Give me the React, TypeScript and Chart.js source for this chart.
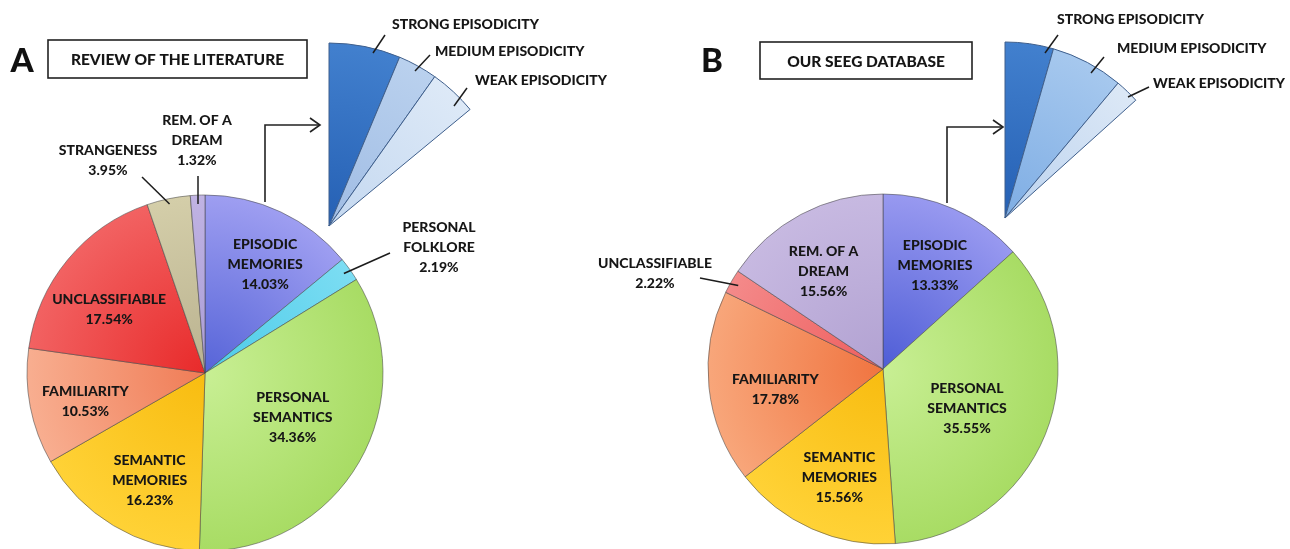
import React, { useEffect, useRef } from "react";
import { Chart, registerables } from "chart.js";

Chart.register(...registerables);

// ---------------- DATA ----------------
const titleA = "REVIEW OF THE LITERATURE";
const categoriesA = [
  "EPISODIC MEMORIES",
  "PERSONAL FOLKLORE",
  "PERSONAL SEMANTICS",
  "SEMANTIC MEMORIES",
  "FAMILIARITY",
  "UNCLASSIFIABLE",
  "STRANGENESS",
  "REM. OF A DREAM",
];
const percentA = [14.03, 2.19, 34.36, 16.23, 10.53, 17.54, 3.95, 1.32];
const labelLinesA = [
  ["EPISODIC", "MEMORIES"],
  ["PERSONAL", "FOLKLORE"],
  ["PERSONAL", "SEMANTICS"],
  ["SEMANTIC", "MEMORIES"],
  ["FAMILIARITY"],
  ["UNCLASSIFIABLE"],
  ["STRANGENESS"],
  ["REM. OF A", "DREAM"],
];

const titleB = "OUR SEEG DATABASE";
const categoriesB = [
  "EPISODIC MEMORIES",
  "PERSONAL SEMANTICS",
  "SEMANTIC MEMORIES",
  "FAMILIARITY",
  "UNCLASSIFIABLE",
  "REM. OF A DREAM",
];
const percentB = [13.33, 35.55, 15.56, 17.78, 2.22, 15.56];
const labelLinesB = [
  ["EPISODIC", "MEMORIES"],
  ["PERSONAL", "SEMANTICS"],
  ["SEMANTIC", "MEMORIES"],
  ["FAMILIARITY"],
  ["UNCLASSIFIABLE"],
  ["REM. OF A", "DREAM"],
];

const episodicityLevels = ["STRONG EPISODICITY", "MEDIUM EPISODICITY", "WEAK EPISODICITY"];
const episodicityA = [45, 25, 30];
const episodicityB = [33.3, 50, 16.7];

// ---------------- STYLE / LAYOUT ----------------
const W = 1290;
const H = 600;
const FONT = "Lato, 'Open Sans', sans-serif";
const WEIGHT = "900";
const TEXT = "#161616";

const innerA = ["#5664d8", "#4ccbe8", "#c8ef94", "#f8bc10", "#f07c56", "#e82a2a", "#bab290", "#aa9cd6"];
const outerA = ["#9e9ef1", "#7cddf3", "#a8dc64", "#ffd236", "#f8ae90", "#f26262", "#d4cea9", "#c0b3e3"];
const innerB = ["#4e5dd6", "#c8ef94", "#f8bc10", "#f07440", "#ee5e5e", "#b2a2d2"];
const outerB = ["#9899f0", "#a8dc64", "#ffd236", "#f8a67a", "#f48a8a", "#c7b9e1"];
const wedgeInnerA = ["#2560b4", "#9fbce4", "#c4d8f0"];
const wedgeOuterA = ["#4280ce", "#bad1ee", "#dde9f7"];
const wedgeInnerB = ["#2560b4", "#7eade4", "#bcd3ef"];
const wedgeOuterB = ["#4280ce", "#a6c8ee", "#dce8f6"];

const PIE_A = { cx: 205, cy: 373, r: 178 };
const PIE_B = { cx: 883, cy: 369, r: 175 };
const WEDGE_A = { cx: 329, cy: 226, r: 183 };
const WEDGE_B = { cx: 1005, cy: 218, r: 176 };

// label placement (inside: radial factor + nudge; outside: text centre + leader)
const placeA: any[] = [
  { rf: 0.7, dx: 7, dy: 4 },
  { out: true, tx: 439, ty: 247, ex: 390, ey: 253, rl: 0.96 },
  { rf: 0.55, dx: 3, dy: -5 },
  { rf: 0.68, dx: 7, dy: 4 },
  { rf: 0.69, dx: 1, dy: 5 },
  { rf: 0.64, dx: -8, dy: 9 },
  { out: true, tx: 108, ty: 160, ex: 142, ey: 177, rl: 0.97 },
  { out: true, tx: 197, ty: 140, ex: 198, ey: 176, rl: 0.95 },
];
const placeB: any[] = [
  { rf: 0.66, dx: 5, dy: 2 },
  { rf: 0.53, dx: -2, dy: 5 },
  { rf: 0.67, dx: 4, dy: 1 },
  { rf: 0.63, dx: 2, dy: 9 },
  { out: true, tx: 655, ty: 273, ex: 700, ey: 278, rl: 0.955 },
  { rf: 0.65, dx: -6, dy: 3 },
];
const wedgeLabelsA = [
  { tx: 392, ty: 24, sx: 373, sy: 53, ex: 385, ey: 35 },
  { tx: 435, ty: 51, sx: 415, sy: 71, ex: 430, ey: 55 },
  { tx: 475, ty: 80, sx: 454, sy: 106, ex: 467, ey: 88 },
];
const wedgeLabelsB = [
  { tx: 1057, ty: 19, sx: 1045, sy: 53, ex: 1058, ey: 35 },
  { tx: 1117, ty: 48, sx: 1091, sy: 73, ex: 1104, ey: 57 },
  { tx: 1153, ty: 83, sx: 1128, sy: 97, ex: 1149, ey: 87 },
];
const frameA = { letter: "A", lx: 22, ly: 61, box: [48, 40, 307, 78], arrow: [[265, 202], [265, 125], [320, 125]] };
const frameB = { letter: "B", lx: 712, ly: 61, box: [760, 42, 972, 79], arrow: [[947, 203], [947, 127], [1003, 127]] };

// ---------------- HELPERS ----------------
function sectorPadding(g: { cx: number; cy: number; r: number }, circDeg: number) {
  const TAU = Math.PI * 2;
  let minX = -1, maxX = 1, minY = -1, maxY = 1;
  if (circDeg < 360) {
    const s = -Math.PI / 2;
    const e = s + (circDeg * Math.PI) / 180;
    const pts = [[0, 0], [Math.cos(s), Math.sin(s)], [Math.cos(e), Math.sin(e)]];
    [0, Math.PI / 2, Math.PI, 1.5 * Math.PI].forEach((a) => {
      const d = (((a - s) % TAU) + TAU) % TAU;
      if (d <= e - s + 1e-9) pts.push([Math.cos(a), Math.sin(a)]);
    });
    minX = Math.min(...pts.map((p) => p[0]));
    maxX = Math.max(...pts.map((p) => p[0]));
    minY = Math.min(...pts.map((p) => p[1]));
    maxY = Math.max(...pts.map((p) => p[1]));
  }
  return {
    left: g.cx + minX * g.r,
    right: W - (g.cx + maxX * g.r),
    top: g.cy + minY * g.r,
    bottom: H - (g.cy + maxY * g.r),
  };
}

function radialFill(g: any, inner: string[], outer: string[]) {
  return (c: any) => {
    const i = c.dataIndex;
    if (i === undefined) return inner[0];
    const grad = c.chart.ctx.createRadialGradient(g.cx, g.cy, 0, g.cx, g.cy, g.r);
    grad.addColorStop(0, inner[i]);
    grad.addColorStop(1, outer[i]);
    return grad;
  };
}

function drawLines(ctx: CanvasRenderingContext2D, lines: string[], x: number, y: number, lh: number) {
  const n = lines.length;
  lines.forEach((t, i) => ctx.fillText(t, x, y + (i - (n - 1) / 2) * lh));
}

function frameDraw(ctx: CanvasRenderingContext2D, f: any, title: string) {
  ctx.save();
  ctx.fillStyle = "#111";
  ctx.font = `${WEIGHT} 33px ${FONT}`;
  ctx.textAlign = "center";
  ctx.textBaseline = "middle";
  ctx.fillText(f.letter, f.lx, f.ly);
  const [x1, y1, x2, y2] = f.box;
  ctx.strokeStyle = "#222";
  ctx.lineWidth = 1.6;
  ctx.strokeRect(x1, y1, x2 - x1, y2 - y1);
  ctx.fillStyle = TEXT;
  ctx.font = `${WEIGHT} 15.5px ${FONT}`;
  ctx.fillText(title, (x1 + x2) / 2, (y1 + y2) / 2 + 1);
  // arrow
  ctx.lineWidth = 1.6;
  ctx.beginPath();
  f.arrow.forEach((p: number[], i: number) => (i ? ctx.lineTo(p[0], p[1]) : ctx.moveTo(p[0], p[1])));
  ctx.stroke();
  const tip = f.arrow[f.arrow.length - 1];
  ctx.beginPath();
  ctx.moveTo(tip[0] - 10, tip[1] - 7);
  ctx.lineTo(tip[0], tip[1]);
  ctx.lineTo(tip[0] - 10, tip[1] + 7);
  ctx.stroke();
  ctx.restore();
}

function piePlugin(lines: string[][], values: number[], place: any[], frame: any, title: string) {
  return {
    id: "pieLabels",
    afterDatasetsDraw(chart: any) {
      const ctx = chart.ctx as CanvasRenderingContext2D;
      const meta = chart.getDatasetMeta(0);
      ctx.save();
      ctx.font = `${WEIGHT} 14px ${FONT}`;
      ctx.fillStyle = TEXT;
      ctx.strokeStyle = "#1c1c1c";
      ctx.lineWidth = 1.5;
      ctx.textAlign = "center";
      ctx.textBaseline = "middle";
      meta.data.forEach((arc: any, i: number) => {
        const { x, y, startAngle, endAngle, outerRadius } = arc.getProps(
          ["x", "y", "startAngle", "endAngle", "outerRadius"],
          true
        );
        const mid = (startAngle + endAngle) / 2;
        const p = place[i];
        const txt = [...lines[i], values[i].toFixed(2) + "%"];
        if (p.out) {
          ctx.beginPath();
          ctx.moveTo(x + Math.cos(mid) * outerRadius * p.rl, y + Math.sin(mid) * outerRadius * p.rl);
          ctx.lineTo(p.ex, p.ey);
          ctx.stroke();
          drawLines(ctx, txt, p.tx, p.ty, 20);
        } else {
          const px = x + Math.cos(mid) * outerRadius * p.rf + p.dx;
          const py = y + Math.sin(mid) * outerRadius * p.rf + p.dy;
          drawLines(ctx, txt, px, py, 20);
        }
      });
      ctx.restore();
      frameDraw(ctx, frame, title);
    },
  };
}

function wedgePlugin(levels: string[], place: any[]) {
  return {
    id: "wedgeLabels",
    afterDatasetsDraw(chart: any) {
      const ctx = chart.ctx as CanvasRenderingContext2D;
      ctx.save();
      ctx.font = `${WEIGHT} 14px ${FONT}`;
      ctx.fillStyle = TEXT;
      ctx.strokeStyle = "#1c1c1c";
      ctx.lineWidth = 1.5;
      ctx.textAlign = "left";
      ctx.textBaseline = "middle";
      levels.forEach((t, i) => {
        const p = place[i];
        ctx.beginPath();
        ctx.moveTo(p.sx, p.sy);
        ctx.lineTo(p.ex, p.ey);
        ctx.stroke();
        ctx.fillText(t, p.tx, p.ty);
      });
      ctx.restore();
    },
  };
}

function baseOptions(g: any, circ: number, extra: any = {}) {
  return {
    responsive: false,
    animation: false,
    events: [],
    radius: g.r,
    rotation: 0,
    circumference: circ,
    layout: { padding: sectorPadding(g, circ) },
    plugins: { legend: { display: false }, tooltip: { enabled: false }, title: { display: false } },
    ...extra,
  };
}

export default function App() {
  const pieARef = useRef<HTMLCanvasElement>(null);
  const wedgeARef = useRef<HTMLCanvasElement>(null);
  const pieBRef = useRef<HTMLCanvasElement>(null);
  const wedgeBRef = useRef<HTMLCanvasElement>(null);

  useEffect(() => {
    const charts: Chart[] = [];
    const circA = (percentA[0] / percentA.reduce((a, b) => a + b, 0)) * 360;
    const circB = (percentB[0] / percentB.reduce((a, b) => a + b, 0)) * 360;

    charts.push(
      new Chart(pieARef.current!, {
        type: "pie",
        data: {
          labels: categoriesA,
          datasets: [
            {
              data: percentA,
              backgroundColor: radialFill(PIE_A, innerA, outerA) as any,
              borderColor: "rgba(70,70,70,0.55)",
              borderWidth: 1,
            },
          ],
        },
        options: baseOptions(PIE_A, 360) as any,
        plugins: [piePlugin(labelLinesA, percentA, placeA, frameA, titleA)],
      })
    );
    charts.push(
      new Chart(wedgeARef.current!, {
        type: "pie",
        data: {
          labels: episodicityLevels,
          datasets: [
            {
              data: episodicityA,
              backgroundColor: radialFill(WEDGE_A, wedgeInnerA, wedgeOuterA) as any,
              borderColor: "#3f5f8c",
              borderWidth: 1,
            },
          ],
        },
        options: baseOptions(WEDGE_A, circA) as any,
        plugins: [wedgePlugin(episodicityLevels, wedgeLabelsA)],
      })
    );
    charts.push(
      new Chart(pieBRef.current!, {
        type: "pie",
        data: {
          labels: categoriesB,
          datasets: [
            {
              data: percentB,
              backgroundColor: radialFill(PIE_B, innerB, outerB) as any,
              borderColor: "rgba(70,70,70,0.55)",
              borderWidth: 1,
            },
          ],
        },
        options: baseOptions(PIE_B, 360) as any,
        plugins: [piePlugin(labelLinesB, percentB, placeB, frameB, titleB)],
      })
    );
    charts.push(
      new Chart(wedgeBRef.current!, {
        type: "pie",
        data: {
          labels: episodicityLevels,
          datasets: [
            {
              data: episodicityB,
              backgroundColor: radialFill(WEDGE_B, wedgeInnerB, wedgeOuterB) as any,
              borderColor: "#3f5f8c",
              borderWidth: 1,
            },
          ],
        },
        options: baseOptions(WEDGE_B, circB) as any,
        plugins: [wedgePlugin(episodicityLevels, wedgeLabelsB)],
      })
    );
    return () => charts.forEach((c) => c.destroy());
  }, []);

  const cv: React.CSSProperties = { position: "absolute", left: 0, top: 0, width: W, height: H };
  return (
    <div
      style={{
        position: "fixed",
        left: 0,
        top: 0,
        width: 1290,
        height: 549,
        overflow: "hidden",
        background: "#ffffff",
      }}
    >
      <canvas ref={pieARef} width={W} height={H} style={cv} />
      <canvas ref={pieBRef} width={W} height={H} style={cv} />
      <canvas ref={wedgeARef} width={W} height={H} style={cv} />
      <canvas ref={wedgeBRef} width={W} height={H} style={cv} />
    </div>
  );
}
